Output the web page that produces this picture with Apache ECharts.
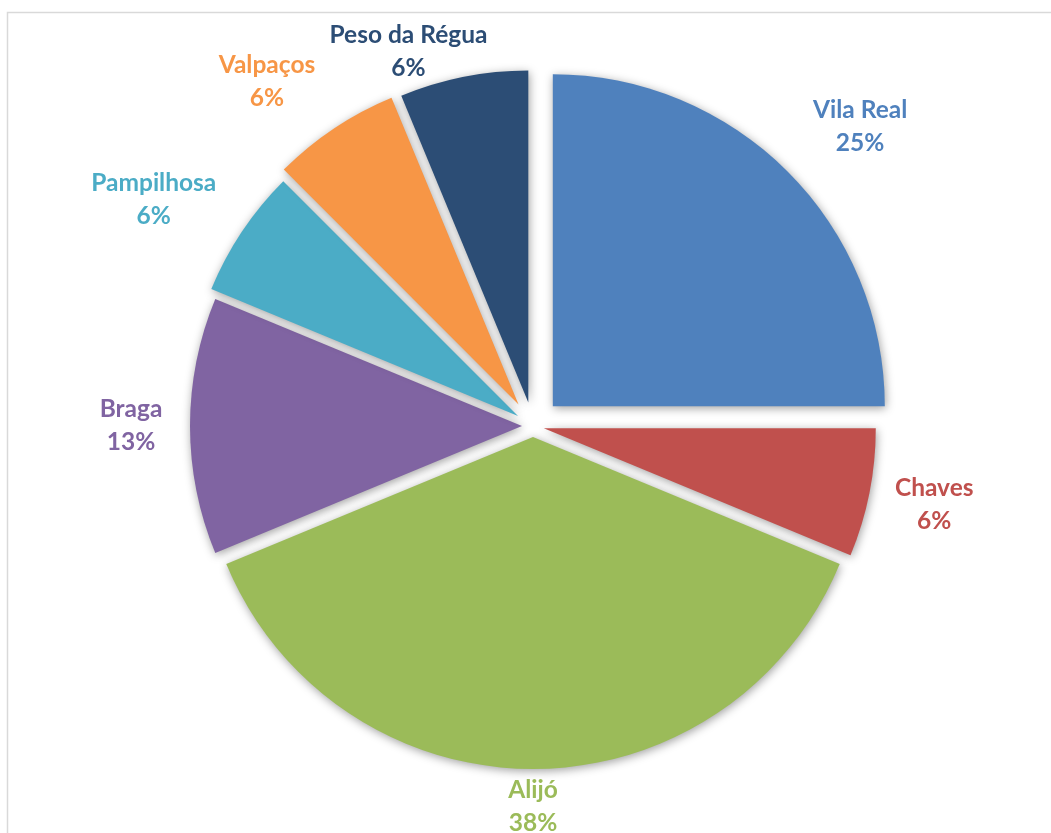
<!DOCTYPE html>
<html>
<head>
<meta charset="utf-8">
<script src="https://cdn.jsdelivr.net/npm/echarts@6/dist/echarts.min.js"></script>
<style>
  html, body { margin: 0; padding: 0; background: #ffffff; }
  #chart { width: 1051px; height: 833px; }
</style>
</head>
<body>
<div id="chart"></div>
<script>
// ---- data ----
const categories = ['Vila Real', 'Chaves', 'Alijó', 'Braga', 'Pampilhosa', 'Valpaços', 'Peso da Régua'];
const values = [4, 1, 6, 2, 1, 1, 1];

// ---- styles ----
const colors = ['#4F81BD', '#C0504D', '#9BBB59', '#8064A2', '#4BACC6', '#F79646', '#2C4D75'];
const explodeOffsets = [28, 11, 11, 11, 18, 26, 24];
const labelDistances = [91, 72, 49, 70, 76, 82, 50];
const labelShifts = [28, 5, 0, 0, 40, 36, 50];

const CENTER = [533, 426];
const RADIUS = 332;
const FONT = 'Lato';

const chart = echarts.init(document.getElementById('chart'), null, { renderer: 'canvas' });

const series = [];
categories.forEach(function (cat, i) {
  series.push({
    type: 'pie',
    center: CENTER,
    radius: RADIUS,
    startAngle: 90,
    clockwise: true,
    silent: true,
    animation: false,
    selectedMode: 'single',
    selectedOffset: explodeOffsets[i],
    avoidLabelOverlap: false,
    label: { show: false },
    labelLine: { show: false },
    emphasis: { disabled: true },
    data: categories.map(function (c, j) {
      return {
        name: c,
        value: values[j],
        selected: j === i,
        itemStyle: j === i ? {
          color: colors[j],
          borderWidth: 0,
          shadowBlur: 10,
          shadowColor: 'rgba(0,0,0,0.38)',
          shadowOffsetX: 1,
          shadowOffsetY: 2
        } : {
          color: 'rgba(0,0,0,0)',
          borderWidth: 0,
          shadowBlur: 0
        }
      };
    })
  });
});

// label series (transparent slices, labels only)
series.push({
  type: 'pie',
  center: CENTER,
  radius: RADIUS,
  startAngle: 90,
  clockwise: true,
  silent: true,
  animation: false,
  avoidLabelOverlap: false,
  emphasis: { disabled: true },
  itemStyle: { color: 'rgba(0,0,0,0)', borderWidth: 0 },
  label: {
    show: true,
    position: 'outside',
    distanceToLabelLine: 0,
    fontFamily: FONT,
    fontWeight: 'bold',
    fontSize: 24.5,
    lineHeight: 33,
    formatter: function (p) {
      return p.name + '\n' + Math.round(p.percent) + '%';
    }
  },
  labelLine: { show: false, length2: 0 },
  labelLayout: function () {
    return { align: 'center', verticalAlign: 'middle' };
  },
  data: categories.map(function (c, j) {
    return {
      name: c,
      value: values[j],
      label: { color: colors[j] },
      labelLine: { show: false, length: labelDistances[j], length2: labelShifts[j] }
    };
  })
});

chart.setOption({
  backgroundColor: '#ffffff',
  animation: false,
  graphic: [{
    type: 'rect',
    silent: true,
    shape: { x: 7.5, y: 12.5, width: 1100, height: 900 },
    style: { fill: 'none', stroke: '#d9d9d9', lineWidth: 1.5 }
  }],
  series: series
});
</script>
</body>
</html>
